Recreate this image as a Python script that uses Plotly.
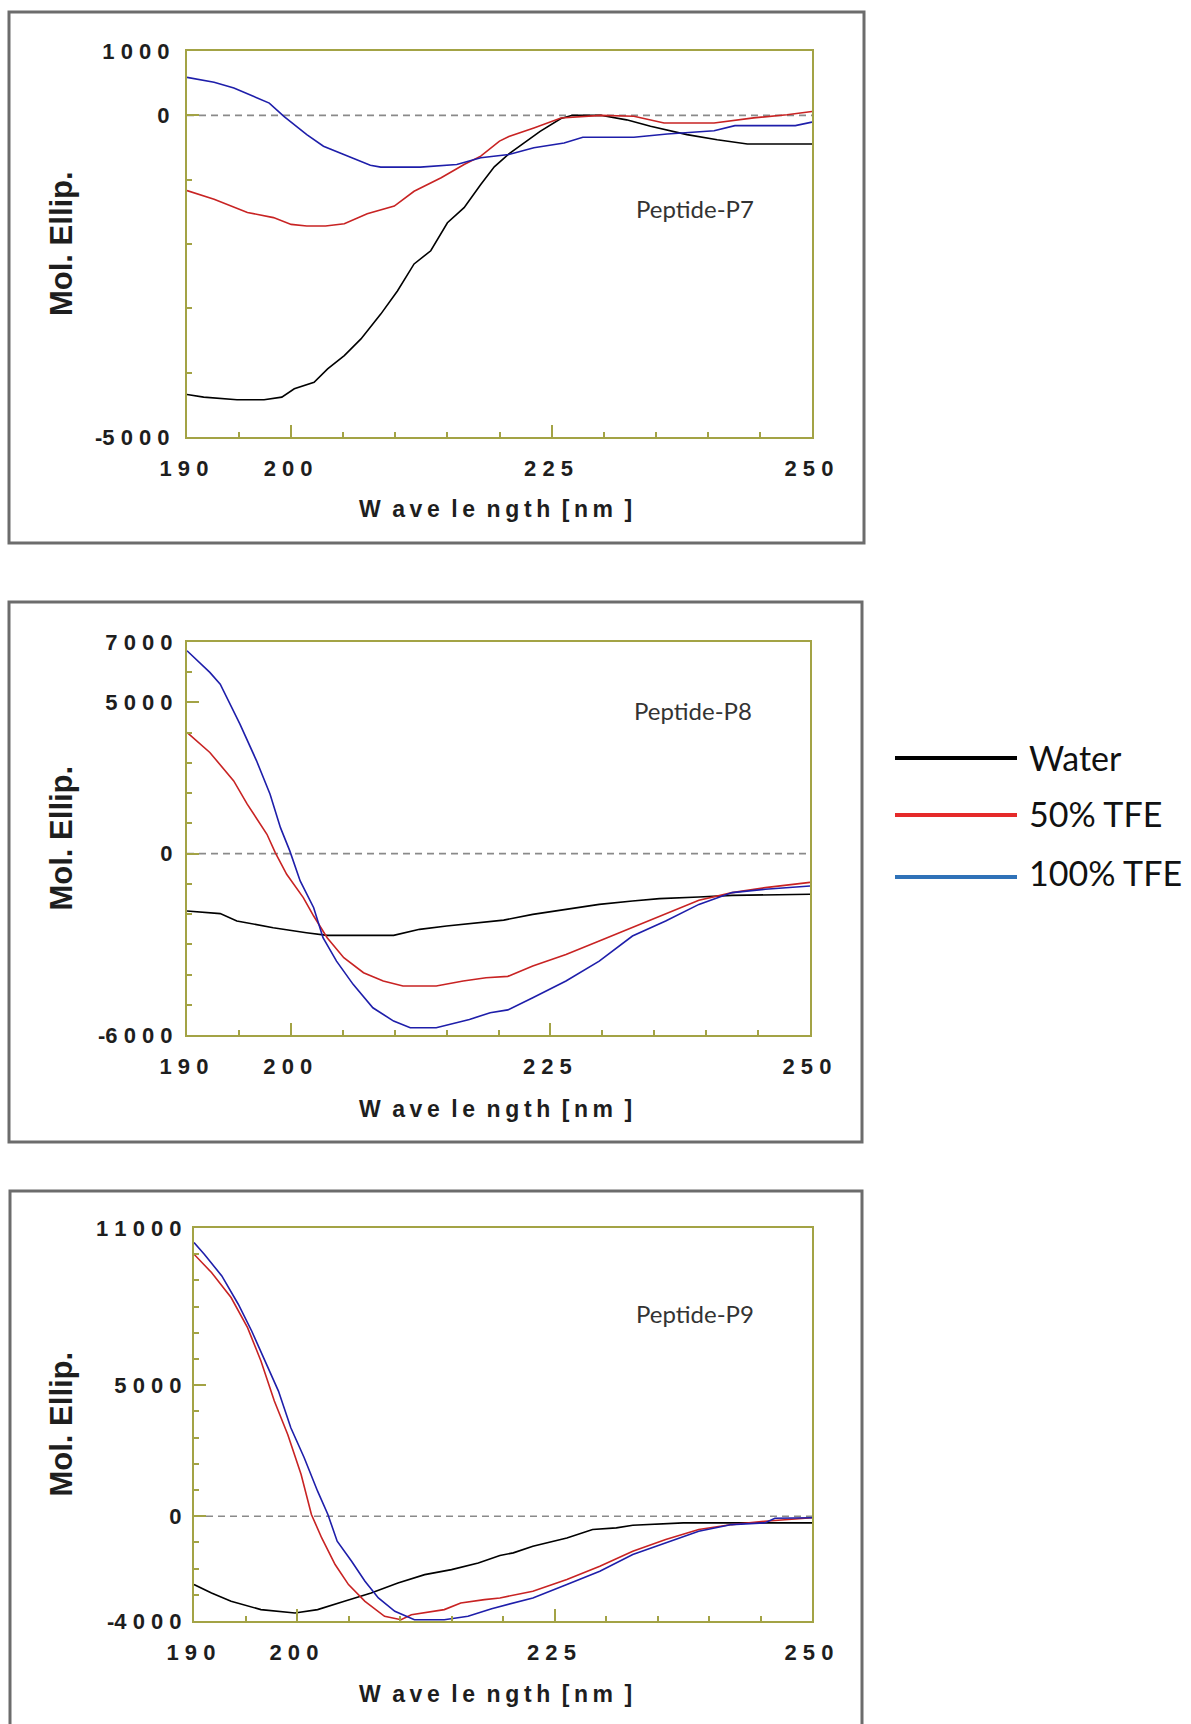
import plotly.graph_objects as go

W, H = 1191, 1724

# ---- CD spectra: wavelength (nm) and molar ellipticity readings ----
# Peptide-P7
p7_water_wl = [190, 191.6, 194.8, 197.4, 199.1, 200.3, 202.2, 203.5, 205.1, 206.7, 208.6, 210.2,
               211.8, 213.4, 215.0, 216.6, 218.2, 219.5, 220.9, 222.0, 223.9, 225.9, 227.0, 229.7,
               232.2, 234.5, 238.0, 240.9, 243.8, 250]
p7_water = [-4340, -4380, -4420, -4420, -4380, -4250, -4150, -3940, -3735, -3475, -3090, -2730,
            -2310, -2105, -1670, -1435, -1075, -800, -600, -470, -250, -50, 0, 0,
            -70, -170, -300, -380, -445, -445]
p7_tfe50_wl = [190, 192.6, 195.8, 198.3, 200.0, 201.5, 203.3, 205.1, 207.3, 209.9, 211.8, 214.4,
               216.6, 218.2, 220.0, 220.9, 223.3, 225.9, 229.7, 232.9, 235.8, 240.6, 244.4, 247.6, 250]
p7_tfe50 = [-1170, -1305, -1510, -1590, -1695, -1720, -1720, -1685, -1530, -1410, -1180, -970,
            -765, -635, -400, -330, -196, -41, 0, -15, -120, -120, -40, 10, 60]
p7_tfe100_wl = [190, 192.6, 194.5, 197.9, 199.3, 201.5, 203.1, 205.4, 207.6, 208.6, 212.4, 215.9,
                218.2, 220.9, 223.3, 226.2, 228.0, 232.9, 236.1, 240.6, 242.6, 248.4, 250]
p7_tfe100 = [590, 515, 425, 190, -15, -300, -480, -635, -775, -805, -805, -765,
             -660, -610, -505, -430, -340, -340, -290, -240, -160, -160, -105]

# Peptide-P8
p8_water_wl = [190, 193.2, 194.8, 198.3, 201.5, 203.5, 209.9, 212.4, 215.0, 218.2, 220.5, 223.3,
               226.5, 229.7, 232.9, 235.5, 239.3, 242.5, 250]
p8_water = [-1900, -1985, -2230, -2450, -2615, -2705, -2705, -2505, -2395, -2285, -2200, -2010,
            -1845, -1680, -1565, -1490, -1435, -1380, -1345]
p8_tfe50_wl = [190, 192.2, 194.5, 195.8, 197.7, 198.5, 199.6, 201.2, 202.2, 203.5, 205.1, 207.0,
               208.9, 210.8, 214.0, 216.6, 218.8, 220.9, 223.3, 226.5, 229.7, 232.9, 236.1, 239.3,
               242.5, 245.7, 250]
p8_tfe50 = [4010, 3345, 2405, 1635, 640, 35, -685, -1455, -2065, -2780, -3445, -3940,
            -4215, -4380, -4380, -4215, -4105, -4060, -3720, -3335, -2890, -2450, -2010, -1545,
            -1290, -1125, -950]
p8_tfe100_wl = [190, 192.2, 193.2, 195.1, 196.7, 198.0, 199.0, 199.9, 200.9, 202.2, 203.1, 204.4,
                206.0, 207.9, 209.9, 211.5, 214.0, 217.2, 219.2, 220.9, 223.3, 226.5, 229.7, 232.9,
                236.1, 239.3, 242.5, 245.7, 250]
p8_tfe100 = [6710, 5995, 5605, 4285, 3070, 1965, 860, 90, -905, -1790, -2780, -3555,
             -4325, -5100, -5540, -5760, -5760, -5485, -5265, -5170, -4770, -4215, -3555, -2725,
             -2230, -1680, -1290, -1180, -1070]

# Peptide-P9
p9_water_wl = [190, 191.7, 193.6, 196.5, 199.8, 202.0, 204.6, 207.2, 209.8, 212.4, 215.0, 217.6,
               219.7, 221.0, 222.9, 226.2, 228.7, 231.0, 232.6, 237.5, 250]
p9_water = [-2610, -2930, -3250, -3565, -3695, -3565, -3250, -2930, -2550, -2230, -2040, -1785,
            -1500, -1400, -1145, -830, -510, -445, -345, -255, -255]
p9_tfe50_wl = [190, 191.7, 193.6, 195.2, 196.5, 197.8, 199.1, 200.4, 201.4, 202.4, 203.7, 205.0,
               206.6, 208.5, 210.1, 211.1, 214.3, 215.9, 218.2, 219.7, 222.9, 226.2, 229.4, 232.6,
               235.8, 239.0, 242.2, 245.4, 250]
p9_tfe50 = [10000, 9300, 8345, 7195, 5925, 4395, 3120, 1590, 65, -830, -1845, -2610,
            -3250, -3820, -3950, -3760, -3565, -3310, -3185, -3120, -2865, -2420, -1910, -1340,
            -890, -510, -320, -190, -60]
p9_tfe100_wl = [190, 191.0, 192.7, 194.3, 195.6, 196.9, 198.2, 199.4, 200.7, 202.0, 203.0, 203.9,
                205.3, 206.6, 207.9, 209.5, 211.4, 214.3, 216.6, 218.9, 221.0, 222.9, 226.2, 229.4,
                232.6, 235.8, 239.0, 242.2, 245.4, 246.4, 250]
p9_tfe100 = [10450, 10000, 9170, 8090, 7070, 5925, 4775, 3375, 2230, 955, 65, -955,
             -1720, -2485, -3120, -3630, -3950, -3950, -3820, -3530, -3320, -3120, -2610, -2100,
             -1465, -1020, -575, -320, -255, -80, -60]

# axis ticks
x_tickvals = [190, 200, 225, 250]
x_ticktext = ["1 9 0\u00a0", "2 0 0\u00a0", "2 2 5\u00a0", "2 5 0\u00a0"]
p7_ytickvals = [-5000, 0, 1000]
p7_yticktext = ["-5 0 0 0", "0", "1 0 0 0"]
p8_ytickvals = [-6000, 0, 5000, 7000]
p8_yticktext = ["-6 0 0 0", "0", "5 0 0 0", "7 0 0 0"]
p9_ytickvals = [-4000, 0, 5000, 11000]
p9_yticktext = ["-4 0 0 0", "0", "5 0 0 0", "1 1 0 0 0"]

solvents = ["Water", "50% TFE", "100% TFE"]
line_colors = ["#000000", "#c82323", "#1e1eaa"]
legend_colors = ["#000000", "#e52a2a", "#2f72b8"]

OLIVE = "#a3a345"
BOX = "#6c6c6c"
TICKFONT = dict(family="Liberation Sans, Arial, sans-serif", size=22, color="#1e1e1e", weight="bold")


def fx(px):
    return px / W


def fy(py):
    return 1 - py / H


panels = [
    dict(label="Peptide-P7", box=(9, 12, 864, 543), plot=(187, 51, 812, 437),
         yrange=[-5000, 1000], ytv=p7_ytickvals, ytt=p7_yticktext, ystand=11,
         series=[(p7_water_wl, p7_water), (p7_tfe50_wl, p7_tfe50), (p7_tfe100_wl, p7_tfe100)],
         label_xy=(695, 209), xtitle_y=509),
    dict(label="Peptide-P8", box=(9, 602, 862, 1142), plot=(187, 642, 810, 1035),
         yrange=[-6000, 7000], ytv=p8_ytickvals, ytt=p8_yticktext, ystand=8,
         series=[(p8_water_wl, p8_water), (p8_tfe50_wl, p8_tfe50), (p8_tfe100_wl, p8_tfe100)],
         label_xy=(693, 710), xtitle_y=1109),
    dict(label="Peptide-P9", box=(10, 1191, 862, 1760), plot=(194, 1228, 812, 1621),
         yrange=[-4000, 11000], ytv=p9_ytickvals, ytt=p9_yticktext, ystand=6,
         series=[(p9_water_wl, p9_water), (p9_tfe50_wl, p9_tfe50), (p9_tfe100_wl, p9_tfe100)],
         label_xy=(695, 1313), xtitle_y=1694),
]

fig = go.Figure()
shapes = []
annotations = []
layout = {}

for i, p in enumerate(panels, start=1):
    sfx = "" if i == 1 else str(i)
    xa, ya = "x" + sfx, "y" + sfx
    x0, y0, x1, y1 = p["plot"]

    # outer frame around each panel
    bx0, by0, bx1, by1 = p["box"]
    shapes.append(dict(type="rect", xref="paper", yref="paper", x0=fx(bx0), x1=fx(bx1),
                       y0=fy(by1), y1=fy(by0), line=dict(color=BOX, width=3), layer="below"))

    for (wl, val), name, col in zip(p["series"], solvents, line_colors):
        fig.add_trace(go.Scatter(x=wl, y=val, mode="lines", name=name, xaxis=xa, yaxis=ya,
                                 line=dict(color=col, width=1.6), showlegend=False))

    layout["xaxis" + sfx] = dict(
        domain=[fx(x0), fx(x1)], range=[190, 250], anchor=ya,
        tickmode="array", tickvals=x_tickvals, ticktext=x_ticktext,
        ticks="inside", ticklen=12, tickwidth=2, tickcolor=OLIVE,
        showline=True, linecolor=OLIVE, linewidth=2, mirror=True, automargin=False,
        showgrid=False, zeroline=False, tickfont=TICKFONT, ticklabelstandoff=11,
        minor=dict(ticks="inside", ticklen=5, tickwidth=2, tickcolor=OLIVE,
                   tickmode="linear", tick0=190, dtick=5, showgrid=False),
    )
    layout["yaxis" + sfx] = dict(
        domain=[fy(y1), fy(y0)], range=p["yrange"], anchor=xa,
        tickmode="array", tickvals=p["ytv"], ticktext=p["ytt"],
        ticks="inside", ticklen=12, tickwidth=2, tickcolor=OLIVE,
        showline=True, linecolor=OLIVE, linewidth=2, mirror=True, automargin=False,
        showgrid=False, zeroline=False, tickfont=TICKFONT, ticklabelstandoff=p["ystand"],
        minor=dict(ticks="inside", ticklen=5, tickwidth=2, tickcolor=OLIVE,
                   tickmode="linear", tick0=0, dtick=1000, showgrid=False),
    )

    # dashed zero reference
    shapes.append(dict(type="line", xref=xa + " domain", yref=ya, x0=0, x1=1, y0=0, y1=0,
                       line=dict(color="#8a8a8a", width=1.6, dash="7px,5px"), layer="below"))

    lx, ly = p["label_xy"]
    annotations.append(dict(text=p["label"], xref="paper", yref="paper", x=fx(lx), y=fy(ly),
                            showarrow=False, xanchor="center", yanchor="middle",
                            font=dict(family="Lato, sans-serif", size=24, color="#333333")))
    annotations.append(dict(text="Mol. Ellip.", xref="paper", yref="paper", x=fx(61),
                            y=fy((y0 + y1) / 2), showarrow=False, textangle=-90,
                            xanchor="center", yanchor="middle",
                            font=dict(family="Liberation Sans, Arial, sans-serif", size=31,
                                      color="#1e1e1e", weight="bold")))
    annotations.append(dict(text="W\u2002a\u2009v\u2009e\u2002l\u2009e\u2002n\u2009g\u2009t\u2009h\u2002[\u2009n\u2009m\u2002]",
                            xref="paper", yref="paper", x=fx(496), y=fy(p["xtitle_y"]),
                            showarrow=False, xanchor="center", yanchor="middle",
                            font=dict(family="Liberation Sans, Arial, sans-serif", size=23,
                                      color="#1e1e1e", weight="bold")))

# legend drawn beside the middle panel
legend_rows = [(758, 757), (815, 813), (877, 872)]
for (line_y, text_y), name, col in zip(legend_rows, solvents, legend_colors):
    shapes.append(dict(type="line", xref="paper", yref="paper", x0=fx(895), x1=fx(1017),
                       y0=fy(line_y), y1=fy(line_y), line=dict(color=col, width=4)))
    annotations.append(dict(text=name, xref="paper", yref="paper", x=fx(1027), y=fy(text_y),
                            showarrow=False, xanchor="left", yanchor="middle",
                            font=dict(family="Lato, sans-serif", size=34, color="#111111")))

fig.update_layout(
    width=W, height=H, margin=dict(l=0, r=0, t=0, b=0, autoexpand=False),
    paper_bgcolor="white", plot_bgcolor="white",
    shapes=shapes, annotations=annotations, showlegend=False,
    **layout,
)

fig.write_html("out.html")
